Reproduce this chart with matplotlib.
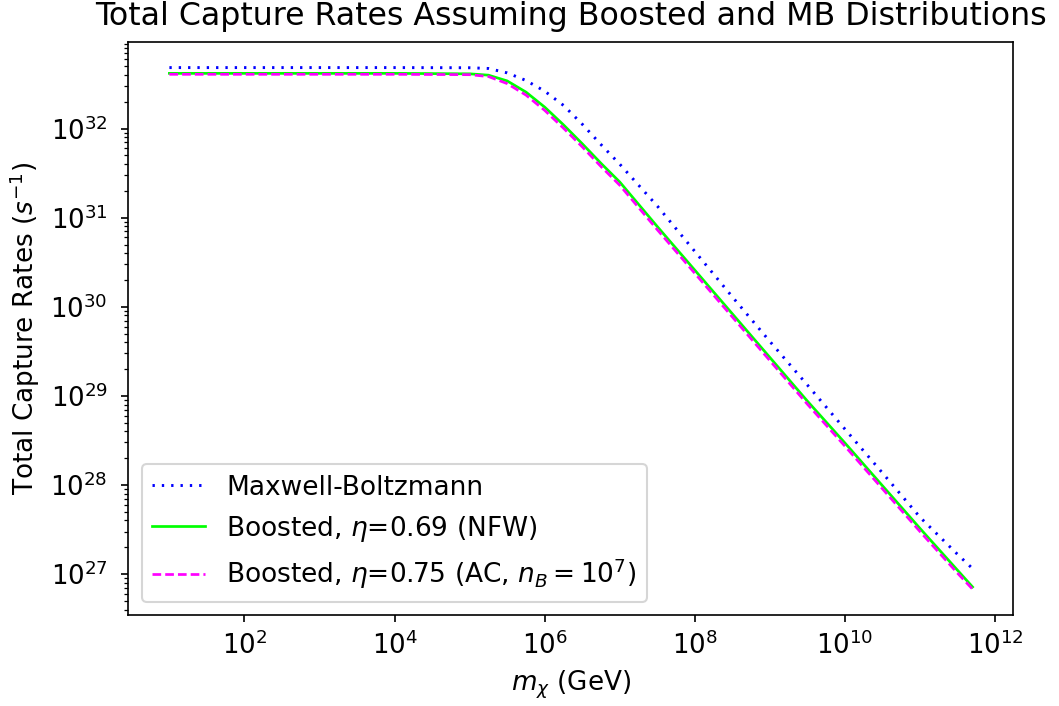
import matplotlib
matplotlib.use('Agg')
import matplotlib.pyplot as plt
from matplotlib.ticker import LogLocator, NullLocator

# dark matter mass (GeV)
m_chi = [1e1, 1e2, 1e3, 1e4, 1e5, 1.78e5, 3.16e5, 5.62e5, 1e6, 1.78e6, 3.16e6,
         5.62e6, 1e7, 3.16e7, 1e8, 3.16e8, 1e9, 3.16e9, 1e10, 3.16e10, 1e11,
         3.16e11, 5e11]

# total capture rates (1/s)
rate_mb = [4.84e32, 4.84e32, 4.84e32, 4.84e32, 4.82e32, 4.73e32, 4.22e32,
           3.47e32, 2.63e32, 1.82e32, 1.12e32, 6.61e31, 3.98e31, 1.35e31,
           4.17e30, 1.29e30, 4.07e29, 1.32e29, 4.22e28, 1.36e28, 4.33e27,
           1.66e27, 1.15e27]
rate_nfw = [4.17e32, 4.17e32, 4.17e32, 4.17e32, 4.12e32, 3.98e32, 3.43e32,
            2.57e32, 1.74e32, 1.10e32, 6.76e31, 4.07e31, 2.51e31, 7.94e30,
            2.57e30, 8.32e29, 2.69e29, 8.71e28, 2.95e28, 9.77e27, 3.24e27,
            1.10e27, 7.16e26]
rate_ac = [4.07e32, 4.07e32, 4.07e32, 4.07e32, 4.03e32, 3.84e32, 3.20e32,
           2.38e32, 1.60e32, 1.01e32, 6.24e31, 3.75e31, 2.31e31, 7.32e30,
           2.37e30, 7.67e29, 2.48e29, 8.04e28, 2.72e28, 9.02e27, 2.99e27,
           1.02e27, 6.76e26]

fig = plt.figure(figsize=(1059 / 150, 706 / 150), dpi=150)
ax = fig.add_axes([0.1212, 0.1285, 0.8356, 0.8127])

ax.loglog(m_chi, rate_mb, color='b', linestyle=(0, (0.8, 2.4)), linewidth=1.4,
          label='Maxwell-Boltzmann')
ax.loglog(m_chi, rate_nfw, color='lime', linestyle='-', linewidth=1.3,
          label=r'Boosted, $\eta$=0.69 (NFW)')
ax.loglog(m_chi, rate_ac, color='magenta', linestyle=(0, (3.2, 1.5)), linewidth=1.3,
          label=r'Boosted, $\eta$=0.75 (AC, $n_B = 10^7$)')

ax.set_xticks([1e2, 1e4, 1e6, 1e8, 1e10, 1e12])
ax.set_xlim(2.84, 1.74e12)
ax.xaxis.set_minor_locator(NullLocator())
ax.yaxis.set_major_locator(LogLocator(base=10, numticks=10))
ax.yaxis.set_minor_locator(LogLocator(base=10, subs=range(2, 10), numticks=10))

ax.tick_params(labelsize=12.5)
ax.tick_params(axis='y', pad=6.5)
ax.tick_params(axis='x', pad=4.5)
ax.set_xlabel(r'$m_\chi$ (GeV)', fontsize=12.6)
ax.set_ylabel(r'Total Capture Rates ($s^{-1}$)', fontsize=12.6)
ax.set_title('Total Capture Rates Assuming Boosted and MB Distributions',
             fontsize=15.2, pad=8)
ax.legend(loc='lower left', fontsize=12.7)

fig.savefig('out.png', dpi=150)
